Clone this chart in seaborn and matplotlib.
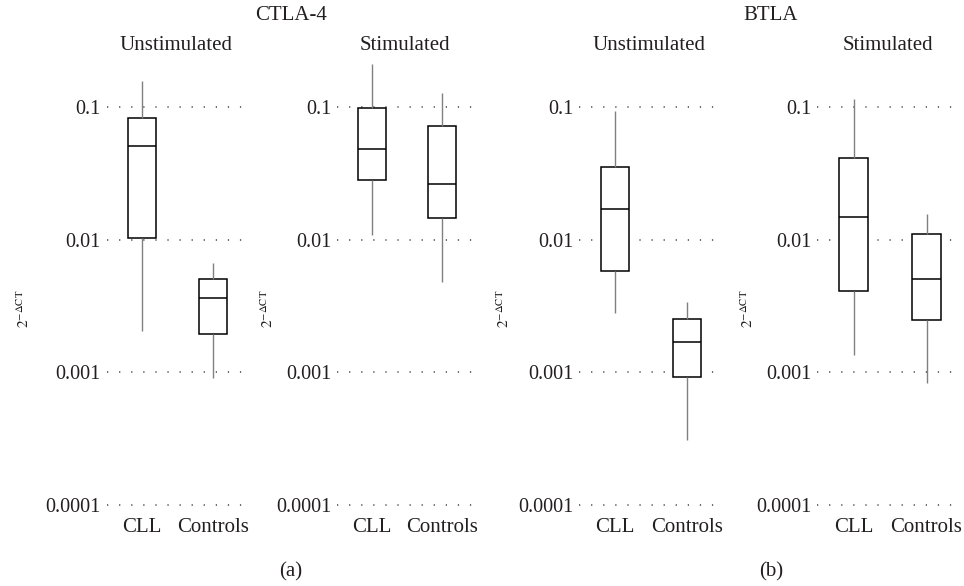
import numpy as np
import pandas as pd
import matplotlib
matplotlib.use("Agg")
import matplotlib.pyplot as plt
import seaborn as sns

# five-number summaries: [min, q1, median, q3, max]
groups = ["CLL", "Controls"]
ctla4_unstim_cll = [0.00203, 0.0102, 0.051, 0.083, 0.157]
ctla4_unstim_ctrl = [0.0009, 0.00193, 0.0036, 0.0050, 0.0066]
ctla4_stim_cll = [0.0109, 0.028, 0.048, 0.098, 0.21]
ctla4_stim_ctrl = [0.0048, 0.0146, 0.026, 0.072, 0.127]
btla_unstim_cll = [0.0028, 0.0058, 0.017, 0.035, 0.093]
btla_unstim_ctrl = [0.00031, 0.00092, 0.0017, 0.0025, 0.0034]
btla_stim_cll = [0.00136, 0.0041, 0.0149, 0.041, 0.115]
btla_stim_ctrl = [0.00083, 0.00246, 0.0050, 0.0111, 0.0157]

ytick_vals = [0.0001, 0.001, 0.01, 0.1]
ytick_labels = ["0.0001", "0.001", "0.01", "0.1"]

panels = [
    ("Unstimulated", ctla4_unstim_cll, ctla4_unstim_ctrl),
    ("Stimulated", ctla4_stim_cll, ctla4_stim_ctrl),
    ("Unstimulated", btla_unstim_cll, btla_unstim_ctrl),
    ("Stimulated", btla_stim_cll, btla_stim_ctrl),
]

sns.set_style("white")
plt.rcParams["font.family"] = ["Liberation Serif", "DejaVu Serif"]
plt.rcParams["mathtext.fontset"] = "stix"
plt.rcParams["lines.scale_dashes"] = False
TXT = "#231f20"

W, H = 964, 586
fig = plt.figure(figsize=(W / 100, H / 100), dpi=100)

# axes boxes in pixels: (left, cat spacing)
ax_px = [(106.5, 71), (337, 70), (579, 72), (817, 73)]
top_px, bot_px = 54, 511
ylab_x = [24, 268, 504, 748]

for (title, cll, ctrl), (left, step), lx in zip(panels, ax_px, ylab_x):
    width = 1.95 * step
    ax = fig.add_axes([left / W, (H - bot_px) / H, width / W, (bot_px - top_px) / H])
    df = pd.DataFrame({
        "group": [groups[0]] * len(cll) + [groups[1]] * len(ctrl),
        "value": cll + ctrl,
    })
    sns.boxplot(data=df, x="group", y="value", ax=ax, order=groups,
                whis=(0, 100), width=0.4, color="white", linecolor="black",
                linewidth=1.1, log_scale=True, showcaps=False, fliersize=0,
                saturation=1,
                whiskerprops=dict(color="#808080", linewidth=1.0),
                medianprops=dict(color="black", linewidth=1.1),
                boxprops=dict(edgecolor="black", facecolor="white", linewidth=1.1))
    ax.set_ylim(0.00009, 0.25)
    ax.set_xlim(-0.5, 1.45)
    ax.set_yticks(ytick_vals)
    ax.set_yticklabels(ytick_labels)
    ax.yaxis.set_minor_locator(matplotlib.ticker.NullLocator())
    ax.set_axisbelow(True)
    ax.yaxis.grid(True, which="major", color="#444444", linewidth=1.1,
                  linestyle=(0, (0.9, 7.8)))
    ax.xaxis.grid(False)
    for s in ax.spines.values():
        s.set_visible(False)
    ax.tick_params(axis="x", length=0, labelsize=15, colors=TXT, pad=5)
    ax.tick_params(axis="y", length=0, labelsize=14.5, colors=TXT, pad=4)
    ax.set_xlabel("")
    ax.set_ylabel("")
    fig.text((left + width / 2) / W, 1 - 45 / H, title, ha="center", va="center",
             fontsize=15, color=TXT)
    fig.text(lx / W, 1 - 309 / H, r"$2^{-\Delta\mathrm{CT}}$", rotation=90,
             ha="center", va="center", fontsize=11, color=TXT)

fig.text(291 / W, 1 - 15 / H, "CTLA-4", ha="center", va="center", fontsize=15, color=TXT)
fig.text(771 / W, 1 - 15 / H, "BTLA", ha="center", va="center", fontsize=15, color=TXT)
fig.text(291 / W, 1 - 572 / H, "(a)", ha="center", va="center", fontsize=15, color=TXT)
fig.text(771 / W, 1 - 572 / H, "(b)", ha="center", va="center", fontsize=15, color=TXT)

fig.savefig("out.png", dpi=100)
